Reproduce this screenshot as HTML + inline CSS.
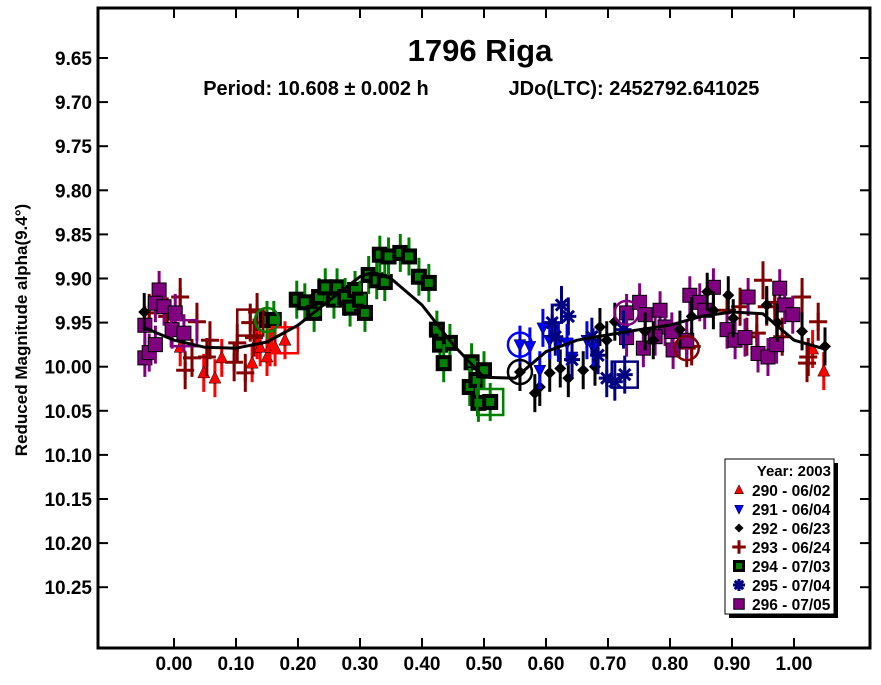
<!DOCTYPE html>
<html><head><meta charset="utf-8"><style>
body{margin:0;background:#fff;}
svg text{font-family:"Liberation Sans",Arial,sans-serif;font-weight:bold;}
</style></head><body>
<svg id="chart" width="881" height="680" xmlns="http://www.w3.org/2000/svg">
<rect x="0" y="0" width="881" height="680" fill="#fff"/>
<g id="marks"></g>
<rect x="98" y="8" width="772" height="640" fill="none" stroke="#000" stroke-width="3"/>
<g id="axes"></g>
<text x="480" y="61" font-size="31" text-anchor="middle">1796 Riga</text>
<text x="316" y="95" font-size="20" text-anchor="middle">Period: 10.608 ± 0.002 h</text>
<text x="634" y="95" font-size="20" text-anchor="middle">JDo(LTC): 2452792.641025</text>
<text transform="translate(27,330) rotate(-90)" font-size="17" text-anchor="middle">Reduced Magnitude alpha(9.4°)</text>
<g id="legend"></g>
</svg>
<script>
const xTicks=[0,0.1,0.2,0.3,0.4,0.5,0.6,0.7,0.8,0.9,1.0];
const yTicks=[9.65,9.70,9.75,9.80,9.85,9.90,9.95,10.00,10.05,10.10,10.15,10.20,10.25];
const curvePhase=[-0.05,0,0.05,0.1,0.15,0.2,0.25,0.3,0.32,0.35,0.4,0.45,0.5,0.55,0.6,0.65,0.7,0.75,0.8,0.85,0.9,0.95,1.0,1.05];
const curveMag=[9.955,9.97,9.978,9.979,9.972,9.953,9.925,9.898,9.893,9.9,9.93,9.975,10.012,10.013,9.983,9.97,9.964,9.958,9.953,9.943,9.938,9.94,9.97,9.98];
const s290=[[0.01,9.978],[0.048,10.007],[0.066,10.013],[0.077,9.99],[0.126,9.996],[0.134,9.97],[0.139,9.978],[0.15,9.989],[0.155,9.978],[0.163,9.978],[0.179,9.97],[1.048,10.005],[1.03,9.98]];
const s291=[[0.558,9.975],[0.574,9.977],[0.595,9.956],[0.606,9.97],[0.62,9.973],[0.634,9.973],[0.59,10.004],[0.642,9.989],[0.666,9.97],[0.676,9.978]];
const s292=[[0.558,10.006],[0.582,10.03],[0.59,10.023],[0.606,10.007],[0.623,10.002],[0.636,10.013],[0.66,10.004],[0.679,10.0],[0.687,9.955],[0.711,9.949],[0.698,9.97],[0.76,9.96],[0.773,9.97],[0.816,9.958],[0.835,9.943],[0.86,9.915],[0.87,9.936],[0.894,9.919],[0.902,9.945],[0.956,9.93],[0.973,9.95],[1.013,9.96],[1.05,9.977],[-0.048,9.938]];
const s293=[[-0.04,9.939],[-0.011,9.943],[0.01,9.921],[0.037,9.949],[0.018,10.004],[0.029,9.99],[0.053,9.989],[0.058,9.97],[0.097,9.995],[0.102,9.973],[0.115,10.007],[0.123,9.95],[0.129,9.967],[0.134,9.938],[0.827,9.979],[0.835,9.977],[0.913,9.932],[0.924,9.966],[0.95,9.902],[0.956,9.932],[0.969,9.927],[1.013,9.921],[1.021,9.996],[1.023,9.989],[1.039,9.949],[0.981,9.966],[0.94,9.962],[0.892,9.936]];
const s294=[[0.15,9.947],[0.161,9.947],[0.198,9.924],[0.211,9.927],[0.226,9.939],[0.234,9.921],[0.244,9.91],[0.258,9.924],[0.263,9.91],[0.276,9.921],[0.284,9.933],[0.292,9.913],[0.3,9.924],[0.308,9.939],[0.314,9.896],[0.327,9.902],[0.34,9.904],[0.332,9.873],[0.346,9.875],[0.365,9.871],[0.379,9.875],[0.395,9.898],[0.411,9.905],[0.424,9.958],[0.429,9.975],[0.445,9.973],[0.435,9.996],[0.48,9.995],[0.477,10.023],[0.488,10.015],[0.5,10.004],[0.491,10.041],[0.51,10.04]];
const s295=[[0.625,9.93],[0.636,9.943],[0.61,9.95],[0.615,9.966],[0.674,9.966],[0.684,9.987],[0.698,10.013],[0.711,10.017],[0.727,10.009],[0.725,9.958],[0.642,9.992]];
const s296=[[0.73,9.939],[0.751,9.927],[0.76,9.941],[0.784,9.936],[0.792,9.955],[0.805,9.981],[0.832,9.919],[0.848,9.927],[0.856,9.936],[0.87,9.91],[0.892,9.958],[0.905,9.97],[0.921,9.967],[0.926,9.921],[0.942,9.985],[0.958,9.989],[0.972,9.975],[0.977,9.911],[0.985,9.93],[0.998,9.941],[0.757,9.979],[0.776,9.966],[0.803,9.96],[0.827,9.97],[0.73,9.967],[-0.047,9.99],[-0.04,9.984],[-0.047,9.953],[-0.024,9.913],[-0.03,9.928],[-0.016,9.932],[0.002,9.939],[-0.003,9.958],[-0.03,9.975],[0.016,9.962]];
const legendLabels=["290 - 06/02","291 - 06/04","292 - 06/23","293 - 06/24","294 - 07/03","295 - 07/04","296 - 07/05"];
const xs=p=>174+620*p;
const ys=m=>58+(m-9.65)*882;
const NS="http://www.w3.org/2000/svg";
function mk(tag,attrs,parent){const e=document.createElementNS(NS,tag);for(const k in attrs)e.setAttribute(k,attrs[k]);parent.appendChild(e);return e;}
const axes=document.getElementById('axes');
xTicks.forEach(t=>{const x=xs(t);
 const a=mk('line',{x1:x,x2:x,y1:648,y2:638,stroke:'#000','stroke-width':2},axes);
 const b=mk('line',{x1:x,x2:x,y1:8,y2:18,stroke:'#000','stroke-width':2},axes);
 const l=mk('text',{x:x,y:670,'font-size':19,'text-anchor':'middle'},axes);l.textContent=t.toFixed(2);});
yTicks.forEach(t=>{const y=ys(t);
 const a=mk('line',{x1:98,x2:108,y1:y,y2:y,stroke:'#000','stroke-width':2},axes);
 const b=mk('line',{x1:860,x2:870,y1:y,y2:y,stroke:'#000','stroke-width':2},axes);
 const l=mk('text',{x:92,y:y+7,'font-size':19,'text-anchor':'end'},axes);l.textContent=t.toFixed(2);});
const marks=document.getElementById('marks');
function marker(g,type,x,y,s){
 if(type==='tri-up')mk('polygon',{points:`${x},${y-7*s} ${x-6*s},${y+5*s} ${x+6*s},${y+5*s}`,fill:'#f00',stroke:'#000','stroke-width':0.5},g);
 else if(type==='tri-down')mk('polygon',{points:`${x},${y+7*s} ${x-6*s},${y-5*s} ${x+6*s},${y-5*s}`,fill:'#00f',stroke:'#000','stroke-width':0.5},g);
 else if(type==='diamond')mk('polygon',{points:`${x},${y-6*s} ${x+6*s},${y} ${x},${y+6*s} ${x-6*s},${y}`,fill:'#000'},g);
 else if(type==='cross'){mk('line',{x1:x-9*s,x2:x+9*s,y1:y,y2:y,stroke:'#800000','stroke-width':3},g);mk('line',{x1:x,x2:x,y1:y-9*s,y2:y+9*s,stroke:'#800000','stroke-width':3},g);}
 else if(type==='gsq'){mk('rect',{x:x-8*s,y:y-8*s,width:16*s,height:16*s,fill:'#000'},g);mk('rect',{x:x-4*s,y:y-4*s,width:8*s,height:8*s,fill:'#008000'},g);}
 else if(type==='star'){for(let k=0;k<4;k++){const a=k*Math.PI/4;mk('line',{x1:x-8*s*Math.cos(a),y1:y-8*s*Math.sin(a),x2:x+8*s*Math.cos(a),y2:y+8*s*Math.sin(a),stroke:'#000080','stroke-width':3},g);}}
 else if(type==='psq')mk('rect',{x:x-7*s,y:y-7*s,width:14*s,height:14*s,fill:'#800080',stroke:'#000','stroke-width':1},g);
}
const series=[{d:s290,t:'tri-up',c:'#f00',n:'290'},{d:s293,t:'cross',c:'#800000',n:'293'},{d:s296,t:'psq',c:'#800080',n:'296'},{d:s294,t:'gsq',c:'#008000',n:'294'},{d:s292,t:'diamond',c:'#000',n:'292'},{d:s291,t:'tri-down',c:'#00f',n:'291'},{d:s295,t:'star',c:'#000080',n:'295'}];
series.forEach(s=>{const g=mk('g',{},marks);
 s.d.forEach(p=>{const x=xs(p[0]),y=ys(p[1]);
  const e=mk('line',{x1:x,x2:x,y1:y-19,y2:y+19,stroke:s.c,'stroke-width':3},g);
  marker(g,s.t,x,y,1);});});
// hollow highlight markers (first/reference point of each session)
const hl=[[0.179,9.97,'sq','#f00'],[0.123,9.95,'sq','#800000'],[0.016,9.962,'sq','#800080'],[0.15,9.947,'ci','#008000'],[0.51,10.04,'sq','#008000'],[0.558,10.006,'ci','#000'],[0.558,9.975,'ci','#00f'],[0.727,10.009,'sq','#000080'],[0.73,9.939,'ci','#800080'],[0.827,9.979,'ci','#800000']];
hl.forEach(h=>{const x=xs(h[0]),y=ys(h[1]);let e;
 if(h[2]==='sq')e=mk('rect',{x:x-13,y:y-13,width:26,height:26,fill:'none',stroke:h[3],'stroke-width':2.5},marks);
 else e=mk('circle',{cx:x,cy:y,r:12,fill:'none',stroke:h[3],'stroke-width':2.5},marks);
 });
let dpath='';curvePhase.forEach((p,i)=>{dpath+=(i?'L':'M')+xs(p).toFixed(1)+','+ys(curveMag[i]).toFixed(1);});
const cv=mk('path',{d:dpath,fill:'none',stroke:'#000','stroke-width':3,'stroke-linejoin':'round'},marks);

const lg=document.getElementById('legend');
mk('rect',{x:729,y:463,width:109,height:155,fill:'#000'},lg);
mk('rect',{x:725,y:459,width:109,height:155,fill:'#fff',stroke:'#000','stroke-width':1},lg);
const yt=mk('text',{x:831,y:476,'font-size':15,'text-anchor':'end'},lg);yt.textContent='Year: 2003';
const ltypes=['tri-up','tri-down','diamond','cross','gsq','star','psq'];
legendLabels.forEach((l,i)=>{const y=490+i*19;const g=mk('g',{},lg);
 marker(g,ltypes[i],739,y,0.75);const t=mk('text',{x:752,y:y+6,'font-size':15.5},g);t.textContent=l;});
</script>
</body></html>
